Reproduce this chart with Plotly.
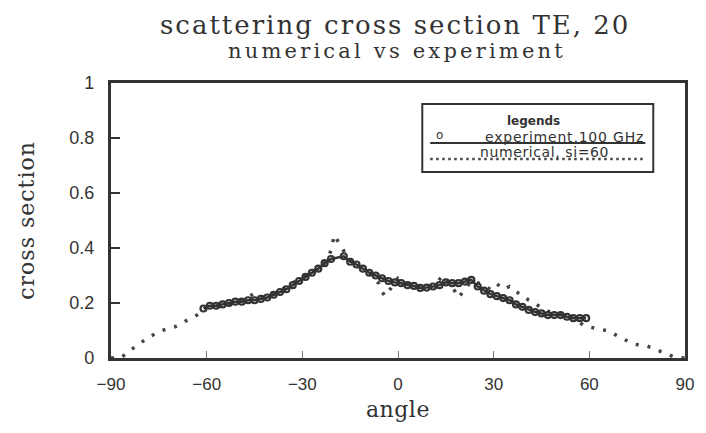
import plotly.graph_objects as go

# numerical (dotted) curve
num_angle = [-90, -87, -83, -78, -74, -70, -66, -63, -60, -56, -52, -48, -45, -42, -38, -35, -32, -29,
             -26, -23, -21, -20, -18, -16, -14, -12, -10, -8, -6, -5, -4, -2, 0, 3, 6, 9, 12, 14, 16,
             18, 19, 21, 23, 26, 29, 31, 33, 35, 37, 39, 41, 44, 47, 50, 53, 56, 58, 60, 66, 70, 74,
             78, 82.5, 86.6, 90]
num_cs = [0.0, 0.0, 0.036, 0.077, 0.10, 0.113, 0.138, 0.156, 0.185, 0.19, 0.20, 0.215, 0.235, 0.22,
          0.235, 0.26, 0.28, 0.30, 0.32, 0.345, 0.39, 0.447, 0.41, 0.37, 0.35, 0.33, 0.32, 0.30, 0.27,
          0.24, 0.225, 0.26, 0.29, 0.27, 0.26, 0.255, 0.27, 0.30, 0.275, 0.24, 0.22, 0.25, 0.28, 0.27,
          0.25, 0.27, 0.25, 0.26, 0.24, 0.23, 0.21, 0.19, 0.17, 0.16, 0.155, 0.14, 0.12, 0.113, 0.098,
          0.073, 0.05, 0.044, 0.022, 0.004, 0.0]

# experiment (circles)
exp_angle = [-61, -59, -57, -55, -53, -51, -49, -47, -45, -43, -41, -39, -37, -35, -33, -31, -29, -27,
             -25, -23, -21, -17, -15, -13, -11, -9, -7, -5, -3, -1, 1, 3, 5, 7, 9, 11, 13, 15, 17,
             19, 21, 23, 25, 27, 29, 31, 33, 35, 37, 39, 41, 43, 45, 47, 49, 51, 53, 55, 57, 59]
exp_cs = [0.18, 0.19, 0.19, 0.195, 0.20, 0.205, 0.205, 0.21, 0.21, 0.215, 0.22, 0.23, 0.24, 0.25,
          0.265, 0.28, 0.295, 0.31, 0.325, 0.345, 0.36, 0.37, 0.35, 0.34, 0.325, 0.31, 0.30, 0.29,
          0.28, 0.275, 0.272, 0.265, 0.262, 0.255, 0.256, 0.26, 0.265, 0.275, 0.272, 0.272, 0.278,
          0.284, 0.26, 0.245, 0.232, 0.225, 0.218, 0.21, 0.195, 0.186, 0.175, 0.167, 0.162, 0.156,
          0.156, 0.156, 0.15, 0.145, 0.145, 0.145]

x_ticks = [-90, -60, -30, 0, 30, 60, 90]
y_ticks = [0, 0.2, 0.4, 0.6, 0.8, 1]
y_tick_text = ["0", "0.2", "0.4", "0.6", "0.8", "1"]

INK = "#333333"
SERIF = "DejaVu Serif"
SANS = "Liberation Sans"
WIDE = "DejaVu Sans"

fig = go.Figure()
fig.add_trace(go.Scatter(
    x=num_angle, y=num_cs, mode="lines",
    line=dict(color="#454545", width=3.5, dash="3px,9px"),
    showlegend=False))
fig.add_trace(go.Scatter(
    x=exp_angle, y=exp_cs, mode="lines+markers",
    line=dict(color=INK, width=2.5),
    marker=dict(symbol="circle-open", size=6, color=INK, line=dict(width=2.2)),
    showlegend=False))

L, R, T, B = 111, 690, 83, 358
W, H = 706, 433

def px(x):
    return (x - L) / (R - L)

def py(y):
    return (B - y) / (B - T)

def spaced(text, sp):
    return '<span style="letter-spacing:%spx">%s</span>' % (sp, text)

# invisible padding after each y tick label pushes the labels away from the axis
PAD = '<span style="color:rgba(0,0,0,0)">0</span>'

shapes = [
    dict(type="rect", xref="paper", yref="paper", x0=px(425), x1=px(658), y0=py(104), y1=py(172),
         line=dict(color=INK, width=2), fillcolor="white", layer="above"),
    dict(type="line", xref="paper", yref="paper", x0=px(433), x1=px(650), y0=py(143), y1=py(143),
         line=dict(color=INK, width=2), layer="above"),
    dict(type="line", xref="paper", yref="paper", x0=px(433), x1=px(650), y0=py(159), y1=py(159),
         line=dict(color="#454545", width=2.5, dash="2.5px,3.5px"), layer="above"),
]

annotations = [
    dict(text="<b>legends</b>", xref="paper", yref="paper", x=px(537), y=py(121), showarrow=False,
         font=dict(family=WIDE, size=12, color=INK), xanchor="center", yanchor="middle"),
    dict(text="o", xref="paper", yref="paper", x=px(442), y=py(135), showarrow=False,
         font=dict(family=WIDE, size=12, color=INK), xanchor="center", yanchor="middle"),
    dict(text=spaced("experiment,100 GHz", 0.8), xref="paper", yref="paper", x=px(651), y=py(137),
         showarrow=False, font=dict(family=WIDE, size=14, color=INK), xanchor="right", yanchor="middle"),
    dict(text=spaced("numerical, si=60", 0.6), xref="paper", yref="paper", x=px(548), y=py(152),
         showarrow=False, font=dict(family=WIDE, size=14, color=INK), xanchor="center", yanchor="middle"),
    dict(text=spaced("scattering cross section TE, 20", 2), xref="paper", yref="paper", x=px(397), y=py(25),
         showarrow=False, font=dict(family=SERIF, size=26, color=INK), xanchor="center", yanchor="middle"),
    dict(text=spaced("numerical vs experiment", 3.2), xref="paper", yref="paper", x=px(399), y=py(51),
         showarrow=False, font=dict(family=SERIF, size=21, color=INK), xanchor="center", yanchor="middle"),
    dict(text=spaced("cross section", 1), xref="paper", yref="paper", x=px(25), y=py(220), textangle=-90,
         showarrow=False, font=dict(family=SERIF, size=22, color=INK), xanchor="center", yanchor="middle"),
    dict(text=spaced("angle", 0.5), xref="paper", yref="paper", x=px(401), y=py(410),
         showarrow=False, font=dict(family=SERIF, size=22, color=INK), xanchor="center", yanchor="middle"),
]

fig.update_layout(
    width=W, height=H,
    margin=dict(l=L, r=W - R, t=T, b=H - B, pad=0),
    paper_bgcolor="white", plot_bgcolor="white",
    shapes=shapes, annotations=annotations,
    font=dict(family=SANS, color=INK),
    xaxis=dict(range=[-90, 90], tickvals=x_ticks, ticks="inside", ticklen=7, tickwidth=1,
               tickcolor="#777", showline=True, mirror=True, linewidth=3, linecolor=INK,
               showgrid=False, zeroline=False, ticklabelstandoff=9,
               tickfont=dict(size=17, family=SANS, color=INK)),
    yaxis=dict(range=[0, 1], tickvals=y_ticks, ticktext=[t + PAD for t in y_tick_text],
               ticks="inside", ticklen=9,
               tickwidth=1.5, tickcolor=INK, showline=True, mirror=True, linewidth=3, linecolor=INK,
               showgrid=False, zeroline=False,
               tickfont=dict(size=18, family=SANS, color=INK)),
)

fig.write_html("out.html", config={"displayModeBar": False},
               post_script="document.body.style.margin='0px';")
